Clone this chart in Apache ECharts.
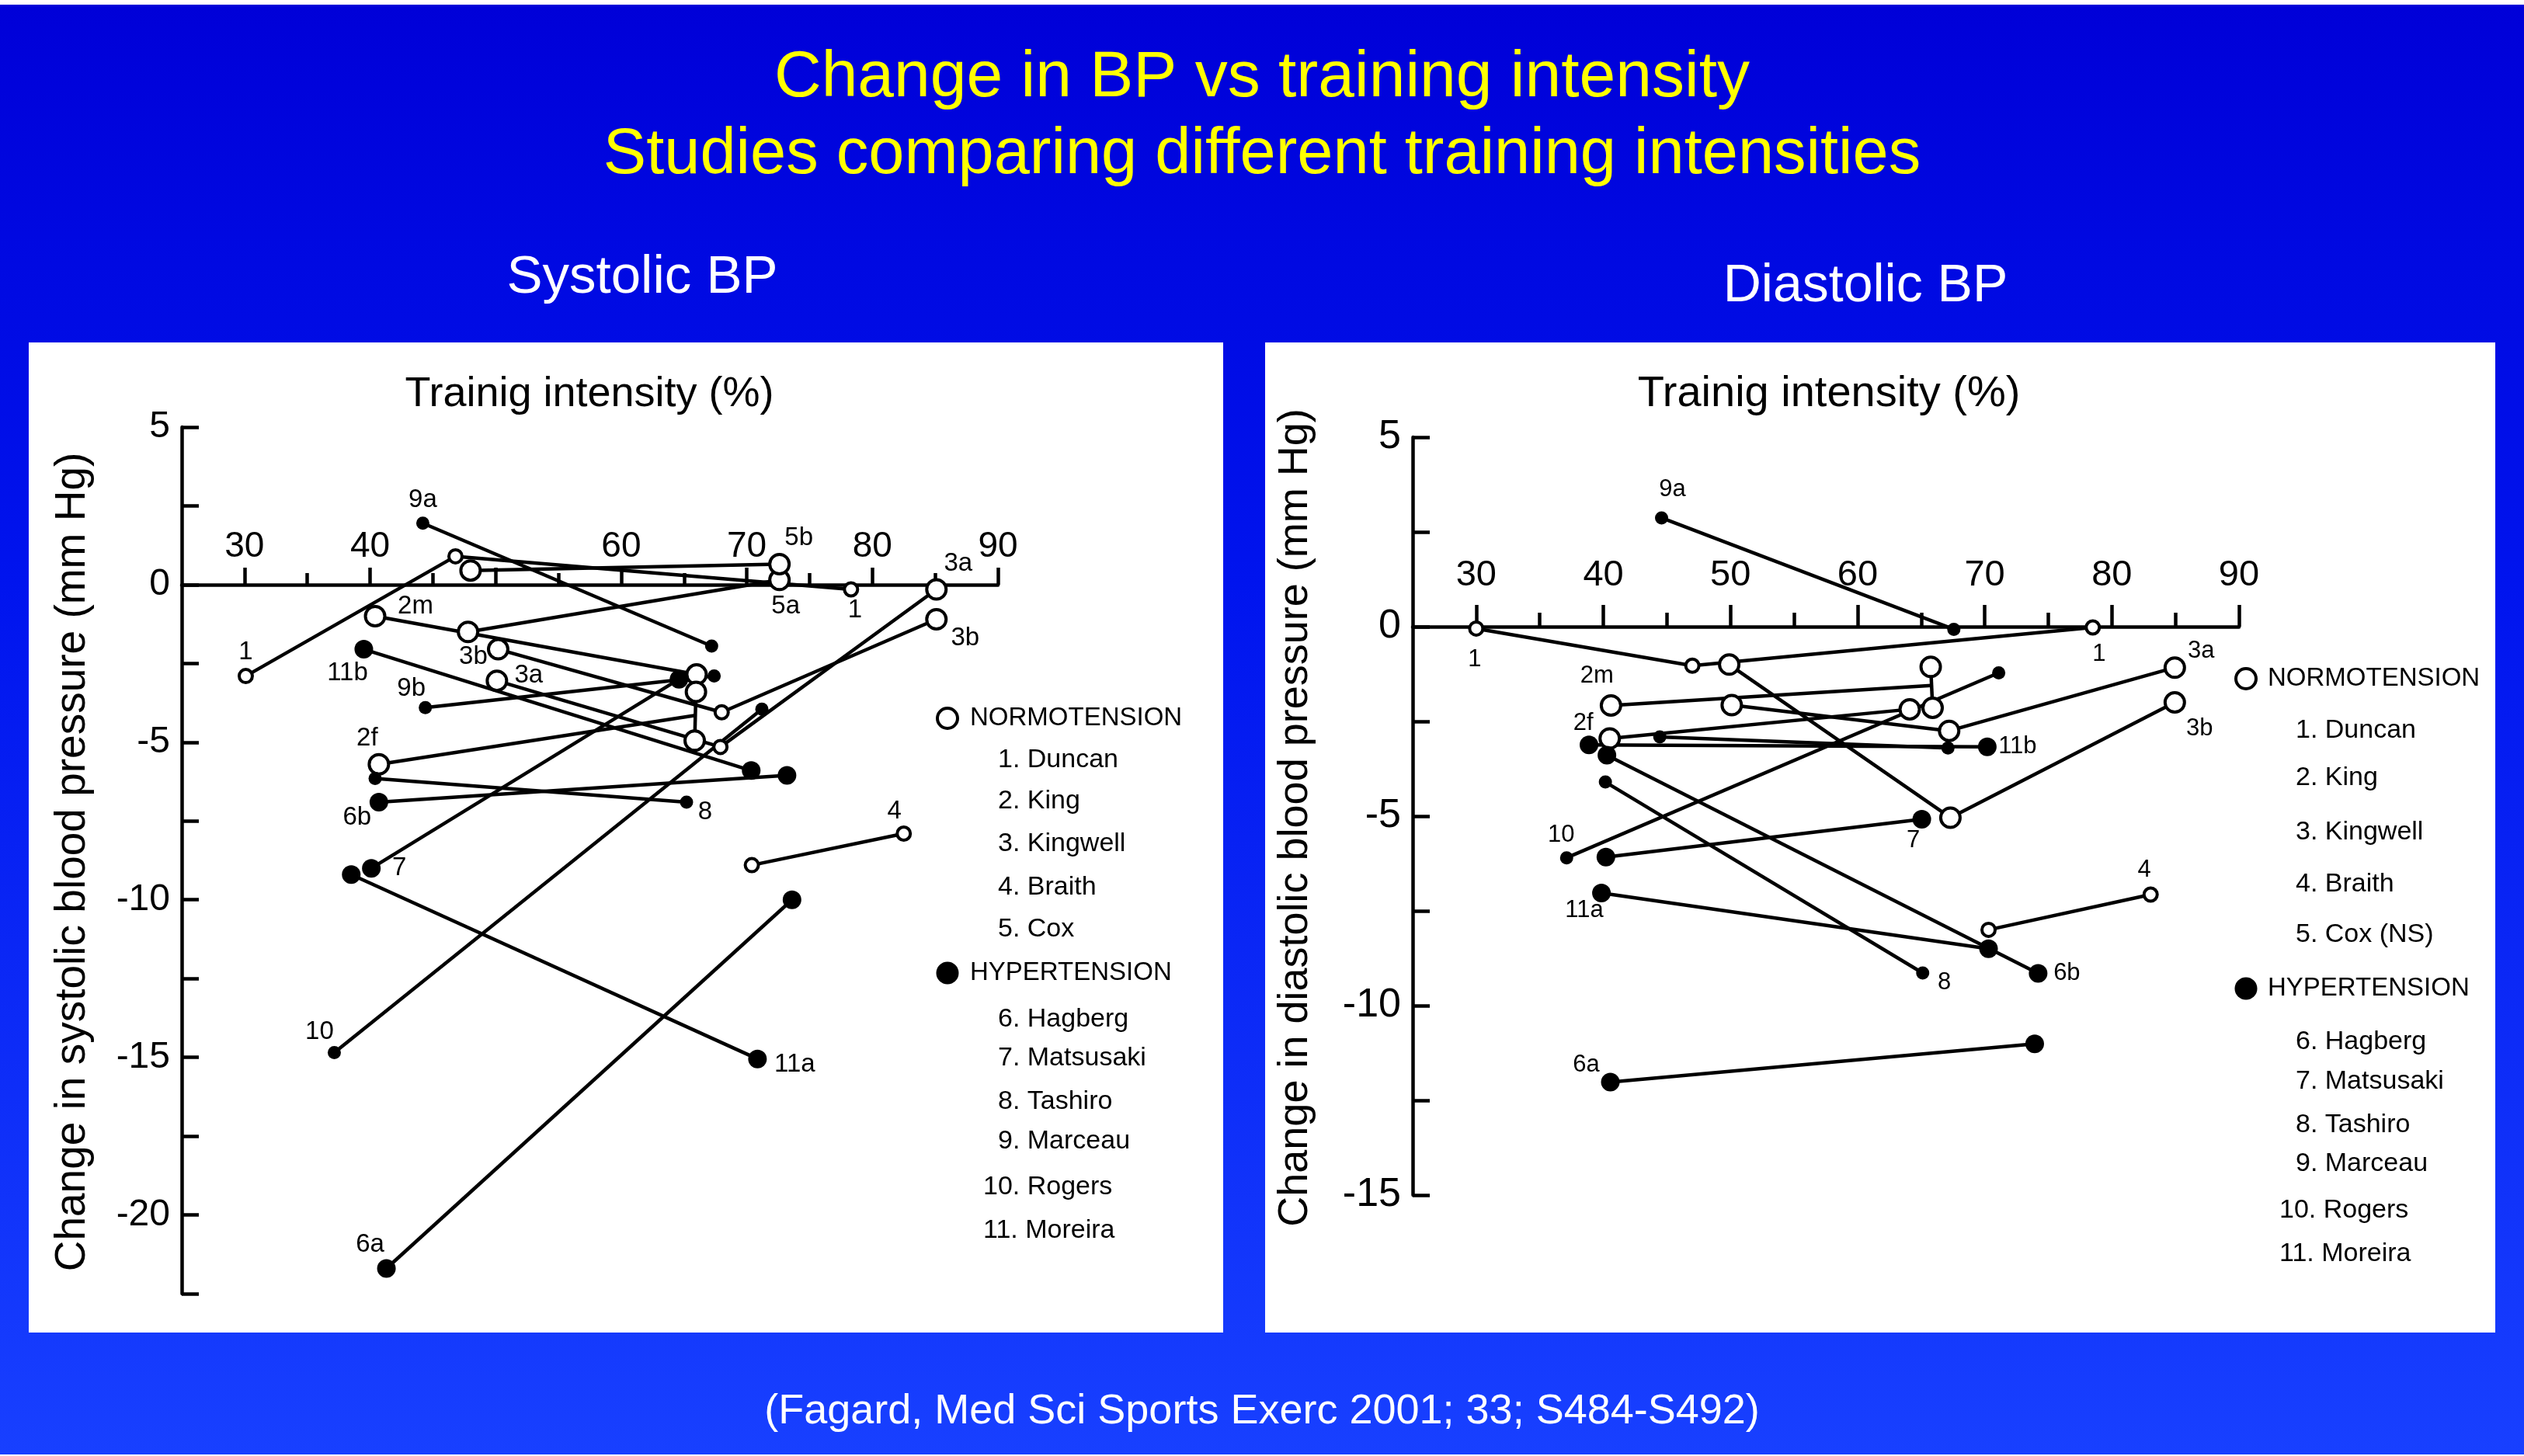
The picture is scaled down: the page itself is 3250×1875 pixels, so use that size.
<!DOCTYPE html>
<html>
<head>
<meta charset="utf-8">
<script src="https://cdn.jsdelivr.net/npm/echarts@6/dist/echarts.min.js"></script>
<style>
html,body{margin:0;padding:0;background:#ffffff;}
#chart{width:3250px;height:1875px;}
</style>
</head>
<body>
<div id="chart"></div>
<script>
// ===================== DATA =====================
// Each study: [training intensity (%), change in BP (mm Hg)] per intensity level

// ---- Systolic BP ----
const sys1    = [[30.1,-2.9],[46.8,0.9],[78.3,-0.15]];
const sys2m   = [[40.4,-1.0],[66.0,-2.85]];
const sys2f   = [[40.7,-5.7],[65.9,-4.15]];
const sys2fHi = [[65.95,-3.4],[65.85,-4.95]];
const sys3a   = [[50.1,-3.05],[67.9,-5.15],[85.1,-0.15]];
const sys3b   = [[50.2,-2.05],[68.0,-4.05],[85.1,-1.1]];
const sys4    = [[70.4,-8.9],[82.5,-7.9]];
const sys5a   = [[47.8,-1.5],[72.6,0.15]];
const sys5b   = [[48.0,0.45],[72.6,0.65]];
const sys6a   = [[41.3,-21.7],[73.6,-10.0]];
const sys6b   = [[40.7,-6.9],[73.2,-6.05]];
const sys7    = [[40.1,-9.0],[64.6,-3.0]];
const sys8    = [[40.4,-6.15],[65.2,-6.9]];
const sys9a   = [[44.2,1.95],[67.2,-1.95]];
const sys9b   = [[44.4,-3.9],[67.4,-2.9]];
const sys10   = [[37.15,-14.85],[71.2,-3.95]];
const sys11a  = [[38.5,-9.2],[70.85,-15.05]];
const sys11b  = [[39.5,-2.05],[70.35,-5.9]];

// ---- Diastolic BP ----
const dia1    = [[30.0,-0.05],[47.0,-1.03],[78.5,-0.02]];
const dia2m   = [[40.6,-2.08],[65.8,-1.55]];
const dia2mHi = [[65.75,-1.06],[65.9,-2.14]];
const dia2f   = [[40.5,-2.95],[64.1,-2.18]];
const dia3a   = [[50.1,-2.07],[67.2,-2.75],[84.95,-1.08]];
const dia3b   = [[49.9,-1.0],[67.3,-5.04],[84.95,-2.0]];
const dia4    = [[70.3,-8.0],[83.05,-7.07]];
const dia6a   = [[40.55,-12.02],[73.93,-11.01]];
const dia6b   = [[40.28,-3.39],[74.2,-9.15]];
const dia7    = [[40.2,-6.08],[65.05,-5.08]];
const dia8    = [[40.16,-4.1],[65.12,-9.14]];
const dia9a   = [[44.58,2.87],[67.57,-0.07]];
const dia9b   = [[44.44,-2.91],[67.11,-3.2]];
const dia10   = [[37.11,-6.1],[71.1,-1.22]];
const dia11a  = [[39.85,-7.03],[70.3,-8.5]];
const dia11b  = [[38.87,-3.12],[70.2,-3.17]];

// study tables: [id, points, group]  N = normotension (open), H = hypertension (filled)
const sysStudies = [
  ['1',sys1,'N'],['2m',sys2m,'N'],['2f',sys2f,'N'],['2fHi',sys2fHi,'N'],['3a',sys3a,'N'],['3b',sys3b,'N'],
  ['4',sys4,'N'],['5a',sys5a,'N'],['5b',sys5b,'N'],['6a',sys6a,'H'],['6b',sys6b,'H'],['7',sys7,'H'],
  ['8',sys8,'H'],['9a',sys9a,'H'],['9b',sys9b,'H'],['10',sys10,'H'],['11a',sys11a,'H'],['11b',sys11b,'H']
];
const diaStudies = [
  ['1',dia1,'N'],['2m',dia2m,'N'],['2mHi',dia2mHi,'N'],['2f',dia2f,'N'],['3a',dia3a,'N'],['3b',dia3b,'N'],
  ['4',dia4,'N'],['6a',dia6a,'H'],['6b',dia6b,'H'],['7',dia7,'H'],['8',dia8,'H'],['9a',dia9a,'H'],
  ['9b',dia9b,'H'],['10',dia10,'H'],['11a',dia11a,'H'],['11b',dia11b,'H']
];

// point labels: [study id, point index, text]
const sysLabels = [
  ['1',0,'1'],['1',2,'1'],['2m',0,'2m'],['2f',0,'2f'],['3a',0,'3a'],['3a',2,'3a'],['3b',0,'3b'],['3b',2,'3b'],
  ['4',1,'4'],['5a',1,'5a'],['5b',1,'5b'],['6a',0,'6a'],['6b',0,'6b'],['7',0,'7'],['8',1,'8'],
  ['9a',0,'9a'],['9b',0,'9b'],['10',0,'10'],['11a',1,'11a'],['11b',0,'11b']
];
const diaLabels = [
  ['1',0,'1'],['1',2,'1'],['2m',0,'2m'],['2f',0,'2f'],['3a',2,'3a'],['3b',2,'3b'],['4',1,'4'],
  ['6a',0,'6a'],['6b',1,'6b'],['7',1,'7'],['8',1,'8'],['9a',0,'9a'],['10',0,'10'],['11a',0,'11a'],['11b',1,'11b']
];

// axis ranges and tick labels
const xRange = [25, 90];
const sysYRange = [-22.5, 5];
const diaYRange = [-15, 5];
const xMajorTicks = [30,40,50,60,70,80,90];
const xMinorTicks = [35,45,55,65,75,85];
const sysXLabels  = [30,40,60,70,80,90];
const diaXLabels  = [30,40,50,60,70,80,90];

// legend / titles text
const normoHeader = 'NORMOTENSION';
const hyperHeader = 'HYPERTENSION';
const sysNormoItems = ['1. Duncan','2. King','3. Kingwell','4. Braith','5. Cox'];
const diaNormoItems = ['1. Duncan','2. King','3. Kingwell','4. Braith','5. Cox (NS)'];
const hyperItems    = ['6. Hagberg','7. Matsusaki','8. Tashiro','9. Marceau','10. Rogers','11. Moreira'];
const titleLines = ['Change in BP vs training intensity','Studies comparing different training intensities'];
const panelTitles = ['Systolic BP','Diastolic BP'];
const xName = 'Trainig intensity (%)';
const yNames = ['Change in systolic blood pressure (mm Hg)','Change in diastolic blood pressure (mm Hg)'];
const citation = '(Fagard, Med Sci Sports Exerc 2001; 33; S484-S492)';

// ===================== STYLES =====================
const FONT = '"Liberation Sans", Arial, Helvetica, sans-serif';
const LW = 4.5;
const grids = [
  {left:234, top:550, width:1051, height:1116},
  {left:1819, top:563, width:1064, height:976}
];
// marker size codes per point: L large, S small, - none
const sysMarkers = {'1':'SSS','2m':'LL','2f':'L-','2fHi':'LL','3a':'LSL','3b':'LSL','4':'SS','5a':'LL','5b':'LL',
  '6a':'LL','6b':'LL','7':'LL','8':'SS','9a':'SS','9b':'SS','10':'SS','11a':'LL','11b':'LL'};
const diaMarkers = {'1':'SSS','2m':'L-','2mHi':'LL','2f':'LL','3a':'LLL','3b':'LLL','4':'SS',
  '6a':'LL','6b':'LL','7':'LL','8':'SS','9a':'SS','9b':'SS','10':'SS','11a':'LL','11b':'LL'};
const markerSize = {N:{L:25,S:17}, H:{L:24,S:17}};
const sysLabelOffsets = {'1:0':[0,-31],'1:2':[5,27],'2m:0':[52,-13],'2f:0':[-15,-33],'3a:0':[41,-7],'3a:2':[28,-33],
  '3b:0':[-32,10],'3b:2':[37,24],'4:1':[-12,-29],'5a:1':[8,34],'5b:1':[25,-34],'6a:0':[-21,-31],'6b:0':[-28,20],
  '7:0':[36,0],'8:1':[24,13],'9a:0':[0,-30],'9b:0':[-18,-24],'10:0':[-19,-27],'11a:1':[48,7],'11b:0':[-21,31]};
const diaLabelOffsets = {'1:0':[-2,40],'1:2':[8,34],'2m:0':[-18,-38],'2f:0':[-34,-20],'3a:2':[34,-21],'3b:2':[32,34],
  '4:1':[-8,-32],'6a:0':[-31,-22],'6b:1':[37,0],'7:1':[-11,28],'8:1':[28,12],'9a:0':[14,-36],'10:0':[-7,-29],
  '11a:0':[-22,22],'11b:1':[39,0]};

function buildSeries(studies, markers, labels, offsets, xIdx, yIdx, labelSize) {
  const out = [];
  studies.forEach(([id, pts]) => {
    out.push({
      type:'line', xAxisIndex:xIdx, yAxisIndex:yIdx, data:pts, showSymbol:false, symbol:'none',
      lineStyle:{color:'#000', width:LW, opacity:1}, z:3, silent:true, animation:false
    });
  });
  const pdata = [];
  studies.forEach(([id, pts, grp]) => {
    pts.forEach((p, i) => {
      const code = markers[id][i];
      if (code === '-') return;
      const item = {
        value:p,
        symbolSize: markerSize[grp][code],
        itemStyle: grp === 'N'
          ? {color:'#fff', borderColor:'#000', borderWidth:4, opacity:1}
          : {color:'#000', borderWidth:0, opacity:1}
      };
      const lab = labels.find(l => l[0] === id && l[1] === i);
      if (lab) {
        item.label = {show:true, formatter:lab[2], position:'inside', offset:offsets[id+':'+i],
          color:'#000', fontSize:labelSize, fontFamily:FONT, align:'center', verticalAlign:'middle',
          textBorderWidth:0, textShadowBlur:0};
      }
      pdata.push(item);
    });
  });
  out.push({type:'scatter', xAxisIndex:xIdx, yAxisIndex:yIdx, symbol:'circle', data:pdata, z:5,
    itemStyle:{opacity:1}, silent:true, animation:false});
  return out;
}

// x axis drawn along y = 0 (shifted down from the top edge of the grid)
function xAxesFor(gridIndex, yRange, labelVals, majorLen, minorLen, fontSize, margin) {
  const off = -grids[gridIndex].height * yRange[1] / (yRange[1] - yRange[0]);
  return [
    {type:'value', gridIndex, min:xRange[0], max:xRange[1], position:'top', offset:off,
     axisLine:{show:true, onZero:false, lineStyle:{color:'#000', width:LW}},
     axisTick:{show:true, customValues:xMajorTicks, length:majorLen, lineStyle:{color:'#000', width:LW}},
     axisLabel:{show:true, customValues:labelVals, fontSize, fontFamily:FONT, color:'#000', margin},
     splitLine:{show:false}},
    {type:'value', gridIndex, min:xRange[0], max:xRange[1], position:'top', offset:off,
     axisLine:{show:false, onZero:false},
     axisTick:{show:true, customValues:xMinorTicks, length:minorLen, lineStyle:{color:'#000', width:LW}},
     axisLabel:{show:false}, splitLine:{show:false}}
  ];
}
function yAxisFor(gridIndex, yRange, fontSize) {
  return {type:'value', gridIndex, min:yRange[0], max:yRange[1], interval:2.5, position:'left',
    axisLine:{show:true, onZero:false, lineStyle:{color:'#000', width:LW}},
    axisTick:{show:true, inside:true, length:22, lineStyle:{color:'#000', width:LW}},
    axisLabel:{formatter:v => (Math.abs(v % 5) < 1e-9 ? String(v) : ''), fontSize, fontFamily:FONT, color:'#000', margin:15},
    splitLine:{show:false}};
}

// ===================== GRAPHICS (background, titles, legends) =====================
function txt(text, x, y, size, fill, align, rot) {
  const e = {type:'text', x, y, z:50, silent:true,
    style:{text, fill, fontSize:size, fontFamily:FONT, align:align || 'center', verticalAlign:'middle'}};
  if (rot) e.rotation = rot;
  return e;
}
function legend(cx, headerX, yN, yH, itemX, itemX2, normoItems, normoYs, hyperYs) {
  const g = [];
  g.push({type:'circle', z:50, silent:true, shape:{cx, cy:yN, r:13}, style:{fill:'#fff', stroke:'#000', lineWidth:4}});
  g.push(txt(normoHeader, headerX, yN, 33, '#000', 'left'));
  normoItems.forEach((t, i) => g.push(txt(t, itemX, normoYs[i], 34, '#000', 'left')));
  g.push({type:'circle', z:50, silent:true, shape:{cx, cy:yH, r:14.5}, style:{fill:'#000'}});
  g.push(txt(hyperHeader, headerX, yH, 33, '#000', 'left'));
  hyperItems.forEach((t, i) => g.push(txt(t, i >= 4 ? itemX2 : itemX, hyperYs[i], 34, '#000', 'left')));
  return g;
}

const graphics = [
  {type:'rect', z:-20, silent:true, shape:{x:0, y:0, width:3250, height:1875},
   style:{fill:new echarts.graphic.LinearGradient(0,0,0,1,[
     {offset:0, color:'#0000D8'},{offset:0.4, color:'#0014EE'},{offset:1, color:'#1840FF'}])}},
  {type:'rect', z:-19, silent:true, shape:{x:0, y:0, width:3250, height:6}, style:{fill:'#fff'}},
  {type:'rect', z:-19, silent:true, shape:{x:0, y:1873, width:3250, height:2}, style:{fill:'#fff'}},
  {type:'rect', z:-10, silent:true, shape:{x:37, y:441, width:1538, height:1275}, style:{fill:'#fff'}},
  {type:'rect', z:-10, silent:true, shape:{x:1629, y:441, width:1584, height:1275}, style:{fill:'#fff'}},
  txt(titleLines[0], 1625, 101, 84, '#FFFF00'),
  txt(titleLines[1], 1625, 200, 83, '#FFFF00'),
  txt(panelTitles[0], 827, 358, 69, '#fff'),
  txt(panelTitles[1], 2402, 369, 68, '#fff'),
  txt(xName, 759, 508, 54, '#000'),
  txt(xName, 2355, 508, 56, '#000'),
  txt(yNames[0], 94, 1110, 55, '#000', 'center', Math.PI/2),
  txt(yNames[1], 1668, 1053, 54, '#000', 'center', Math.PI/2),
  txt(citation, 1625, 1818, 54, '#fff'),
  ...legend(1220, 1249, 925, 1253, 1285, 1266, sysNormoItems,
    [979, 1032, 1087, 1143, 1197], [1313, 1363, 1419, 1470, 1529, 1585]),
  ...legend(2892, 2920, 874, 1273, 2956, 2935, diaNormoItems,
    [941, 1002, 1072, 1139, 1204], [1342, 1393, 1449, 1499, 1559, 1615])
];

// ===================== CHART =====================
const chart = echarts.init(document.getElementById('chart'), null, {renderer:'canvas', width:3250, height:1875});
chart.setOption({
  animation:false,
  textStyle:{fontFamily:FONT},
  grid:grids.map(g => Object.assign({containLabel:false, outerBoundsMode:'none'}, g)),
  xAxis:[
    ...xAxesFor(0, sysYRange, sysXLabels, 22, 15, 46, 26),
    ...xAxesFor(1, diaYRange, diaXLabels, 28, 18, 47, 42)
  ],
  yAxis:[
    yAxisFor(0, sysYRange, 48),
    yAxisFor(1, diaYRange, 52)
  ],
  graphic:graphics,
  series:[
    ...buildSeries(sysStudies, sysMarkers, sysLabels, sysLabelOffsets, 0, 0, 33),
    ...buildSeries(diaStudies, diaMarkers, diaLabels, diaLabelOffsets, 2, 1, 31)
  ]
});
</script>
</body>
</html>
